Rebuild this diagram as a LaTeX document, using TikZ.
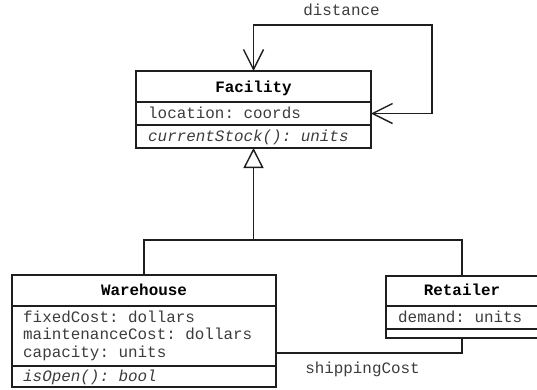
\documentclass[tikz,border=0pt]{standalone}
\usepackage{fontspec}
\setmonofont{Liberation Mono}
\usetikzlibrary{arrows.meta}
\definecolor{ink}{HTML}{1E1E1E}
\definecolor{txt}{HTML}{3C3C3C}
\begin{document}
\begin{tikzpicture}[x=1pt,y=-1pt,
  compartment/.style={draw=ink, line width=1.4pt, inner sep=0pt, outer sep=0pt,
    anchor=north west, minimum height=#1},
  classname/.style={anchor=base, inner sep=0pt, font=\ttfamily\bfseries\fontsize{15.9}{18}\selectfont, text=black},
  member/.style={anchor=base west, inner sep=0pt, font=\ttfamily\fontsize{15.9}{18}\selectfont, text=txt},
  operation/.style={member, font=\ttfamily\itshape\fontsize{15.9}{18}\selectfont},
  rolelabel/.style={anchor=base, inner sep=0pt, font=\ttfamily\fontsize{15.9}{18}\selectfont, text=txt},
  link/.style={draw=ink, line width=1.4pt},
  navarrow/.style={link, {Straight Barb[length=20pt,width=20pt]}-{Straight Barb[length=20pt,width=20pt]}},
  inherit/.style={link, -{Triangle[open,length=20pt,width=20pt,fill=white]}}]
\useasboundingbox (0,0) rectangle (537,389);

% Facility class
\node[compartment=31pt, minimum width=235pt] (factitle) at (136,71) {};
\node[compartment=23pt, minimum width=235pt] (facattr) at (136,102) {};
\node[compartment=23pt, minimum width=235pt] (facops) at (136,125) {};
\node[classname] (facname) at (253.5,92) {Facility};
\node[member] (facloc) at (148,118.5) {location: coords};
\node[operation] (facstock) at (148,141) {currentStock(): units};

% Warehouse class
\node[compartment=31pt, minimum width=264pt] (whtitle) at (12,275) {};
\node[compartment=60pt, minimum width=264pt] (whattr) at (12,306) {};
\node[compartment=21pt, minimum width=264pt] (whops) at (12,366) {};
\node[classname] (whname) at (144,295.5) {Warehouse};
\node[member] (whfixed) at (23,322) {fixedCost: dollars};
\node[member] (whmaint) at (23,339.5) {maintenanceCost: dollars};
\node[member] (whcap) at (23,357) {capacity: units};
\node[operation] (whopen) at (23,381) {isOpen(): bool};

% Retailer class
\node[compartment=30pt, minimum width=152pt] (rttitle) at (386,276) {};
\node[compartment=23pt, minimum width=152pt] (rtattr) at (386,306) {};
\node[compartment=9pt, minimum width=152pt] (rtops) at (386,329) {};
\node[classname] (rtname) at (462,295.5) {Retailer};
\node[member] (rtdemand) at (398,322) {demand: units};

% self association "distance"
\coordinate (distR) at (432,113.5);
\coordinate (distL) at (253.5,25);
\draw[navarrow] (facattr.east) -- (distR) |- (distL) -- (factitle.north);
\node[rolelabel] (distlabel) at (341.5,15) {distance};

% generalisation
\coordinate (genjoin) at (253.5,240);
\draw[inherit] (genjoin) -- (facops.south);
\draw[link] (whtitle.north) |- (genjoin) -| (rttitle.north);

% association "shippingCost"
\coordinate (shipstart) at (276,353);
\draw[link] (shipstart) -| (rtops.south);
\node[rolelabel] (shiplabel) at (362.5,373.5) {shippingCost};
\end{tikzpicture}
\end{document}
